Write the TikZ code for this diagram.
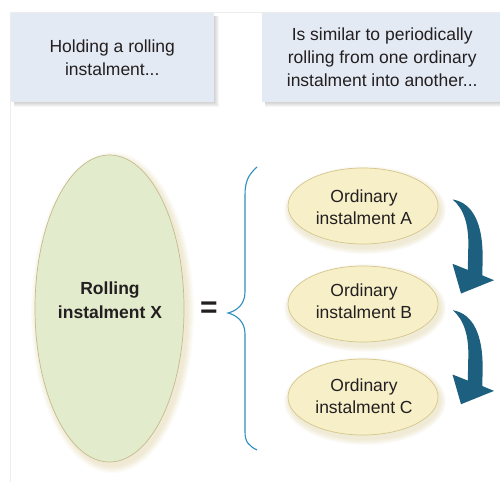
\documentclass[tikz,border=0pt]{standalone}
\usepackage{fontspec}
\setmainfont{Liberation Sans}
\usetikzlibrary{shapes.geometric,calc}
\definecolor{ink}{RGB}{35,31,32}
\definecolor{hdrfill}{RGB}{228,234,243}
\definecolor{framegray}{RGB}{236,236,236}
\definecolor{bigfill}{RGB}{227,235,205}
\definecolor{bigline}{RGB}{196,188,140}
\definecolor{smallfill}{RGB}{246,239,200}
\definecolor{smallline}{RGB}{214,198,140}
\definecolor{glow}{RGB}{214,196,130}
\definecolor{arrowblue}{RGB}{28,95,126}
\definecolor{braceblue}{RGB}{45,143,191}
\tikzset{
  hdrbox/.style={rectangle, fill=hdrfill, inner sep=0pt, align=center,
    text=ink, font=\fontsize{17.5}{23}\selectfont},
  bigell/.style={ellipse, fill=bigfill, draw=bigline, line width=0.7pt,
    inner sep=0pt, minimum width=149pt, minimum height=307pt},
  smallell/.style={ellipse, fill=smallfill, draw=smallline, line width=0.7pt,
    inner sep=0pt, minimum width=150pt, minimum height=76pt},
  elltext/.style={align=center, text=ink, font=\fontsize{17.5}{22}\selectfont},
  bigtext/.style={align=center, text=ink, font=\fontsize{17.5}{23.5}\selectfont\bfseries},
  rollarrow/.pic={
    \fill[arrowblue] (89.7,-6.5) .. controls (111,-3) and (119.5,20) .. (119.6,49)
      -- (119.4,69.4) -- (131,74.2) -- (98,87.5) -- (89.5,57.8) -- (104.8,63.9)
      -- (105.3,40) .. controls (105.8,19) and (101,3) .. (89.7,-6.5) -- cycle;
  }
}
\begin{document}
\begin{tikzpicture}[x=1pt,y=-1pt]
\useasboundingbox[fill=white] (0,0) rectangle (500,482);
% faint frame
\draw[framegray, line width=0.8pt] (10,482) -- (10,12) -- (500,12);

% header shadows
\foreach \k in {1,...,5}{
  \fill[black, opacity=0.035] (14,16) rectangle ({213.5+\k},{101.7+\k});
  \fill[black, opacity=0.035] (265,16) rectangle (503,{101.7+\k});
}
\node[hdrbox, minimum width=202.5pt, minimum height=88.7pt] (h1) at (112.25,57.35)
  {Holding a rolling\\instalment...};
\node[hdrbox, minimum width=241pt, minimum height=88.7pt] (h2) at (382.2,57.35)
  {Is similar to periodically\\rolling from one ordinary\\instalment into another...};

% big ellipse with glow
\coordinate (Xc) at (109.5,308.5);
\foreach \k in {1,...,7}
  \fill[glow, opacity=0.05] ($(Xc)+(3,4)$) ellipse [x radius={74.5+\k}, y radius={153.5+\k}];
\node[bigell] (X) at (Xc) {};
\node[bigtext] (Xt) at (110,300.3) {Rolling\\instalment X};

% equals
\node[text=ink, font=\fontsize{30}{30}\selectfont\bfseries, inner sep=0pt] (eq) at (209,310) {=};

% brace
\coordinate (btop) at (257,167);
\coordinate (btip) at (228,313);
\coordinate (bbot) at (257,450);
\draw[braceblue, line width=1.1pt] (btop) .. controls (248,175) and (245,182) .. (245,195)
  -- (245,292) .. controls (245,305) and (236,311) .. (btip)
  .. controls (236,315) and (245,321) .. (245,334)
  -- (245,432) .. controls (245,442) and (249,446) .. (bbot);

% small ellipses with glow
\foreach \n/\y in {Ac/206,Bc/304,Cc/397}{
  \coordinate (\n) at (363,\y);
}
\foreach \y in {206,304,397}{
  \foreach \k in {1,...,6}
    \fill[glow, opacity=0.06] ($(363,\y)+(2,4)$) ellipse [x radius={75+\k}, y radius={38+\k}];
}
\node[smallell] (A) at (Ac) {};
\node[smallell] (B) at (Bc) {};
\node[smallell] (C) at (Cc) {};
\node[elltext] (At) at (364,207.5) {Ordinary\\instalment A};
\node[elltext] (Bt) at (364,301.7) {Ordinary\\instalment B};
\node[elltext] (Ct) at (364,396.7) {Ordinary\\instalment C};

% curved arrows
\pic at (A.center) {rollarrow};
\pic at ($(B.center)+(0,12.7)$) {rollarrow};
\end{tikzpicture}
\end{document}
